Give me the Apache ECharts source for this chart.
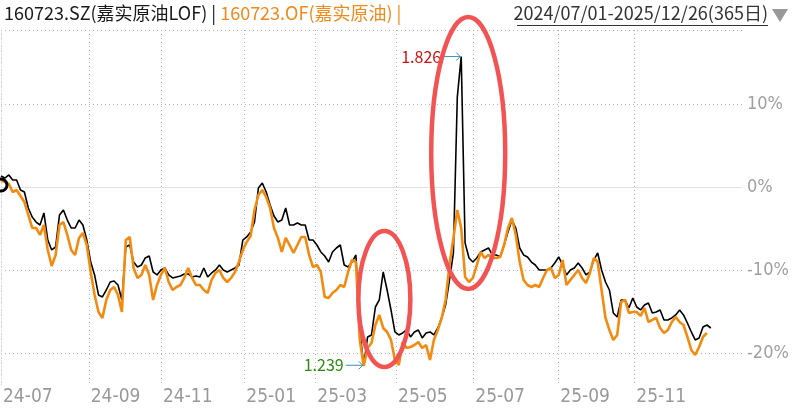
<!DOCTYPE html>
<html><head><meta charset="utf-8">
<script src="https://cdn.jsdelivr.net/npm/echarts@6/dist/echarts.min.js"></script>
<style>html,body{margin:0;padding:0;background:#fff}#c{width:795px;height:410px}</style>
</head><body><div id="c"></div><script>
// x positions are in "slots" of 2 trading days each
const monthPos = [0, 22.5, 41, 62.4, 80.6, 101.3, 121.1, 142.9, 162.4];
const monthLabels = ['24-07','24-09','24-11','25-01','25-03','25-05','25-07','25-09','25-11'];
const yTicks = [-20, -10, 0, 10];
const titleLOF = '160723.SZ(嘉实原油LOF)';
const titleOF = '160723.OF(嘉实原油)';
const dateRange = '2024/07/01-2025/12/26(365日)';
const maxLabel = '1.826';
const minLabel = '1.239';

// 160723.SZ market price, % change from start
const priceLOF = [
 1.33,1.08,1.45,0.84,0.84,-0.36,-0.60,-2.53,-3.61,-4.22,
 -4.58,-3.13,-6.39,-7.59,-7.23,-3.37,-2.77,-3.98,-4.94,-4.94,
 -3.98,-4.58,-6.39,-9.04,-10.60,-13.01,-13.25,-12.41,-11.45,-11.33,
 -11.81,-13.61,-7.23,-6.99,-9.04,-9.64,-9.40,-8.55,-8.31,-10.24,
 -10.60,-10.00,-9.76,-10.60,-10.96,-10.84,-10.72,-10.48,-10.48,-10.84,
 -10.72,-10.84,-9.76,-10.84,-10.36,-10.00,-9.40,-10.00,-10.24,-10.00,
 -9.76,-9.40,-6.39,-6.02,-5.42,-4.22,-0.12,0.48,-0.60,-2.17,
 -3.49,-4.22,-3.98,-2.53,-4.58,-4.58,-4.34,-4.58,-4.58,-6.39,
 -6.39,-6.99,-7.83,-8.31,-9.04,-7.83,-7.35,-6.99,-9.40,-9.64,
 -9.04,-8.19,-17.23,-21.48,-18.07,-17.83,-14.46,-13.61,-10.24,-12.41,
 -14.82,-17.47,-17.83,-17.59,-17.23,-18.07,-17.47,-17.23,-18.19,-17.59,
 -17.47,-17.83,-16.99,-15.78,-14.22,-11.20,-7.95,10.84,15.72,-6.75,
 -8.55,-9.04,-8.55,-7.83,-7.59,-7.35,-8.19,-8.19,-8.43,-6.99,
 -5.42,-3.98,-4.94,-7.35,-8.19,-8.43,-9.04,-9.40,-10.00,-10.00,
 -10.00,-9.76,-9.16,-8.43,-9.40,-10.60,-10.00,-9.76,-9.16,-9.76,
 -10.60,-10.24,-8.80,-7.95,-10.00,-11.45,-12.41,-15.18,-15.66,-13.61,
 -13.61,-14.58,-13.37,-14.46,-14.82,-14.22,-13.98,-15.18,-15.06,-14.82,
 -16.02,-16.02,-15.78,-15.42,-14.82,-15.42,-16.39,-17.47,-18.43,-18.19,
 -16.87,-16.63,-16.99
];
// 160723.OF NAV, % change from start
const navOF = [
 0.84,0.60,0.36,-0.60,-0.36,-1.08,-1.81,-3.37,-4.94,-4.94,
 -5.78,-4.58,-7.59,-9.52,-8.19,-4.58,-4.22,-5.78,-7.59,-8.19,
 -6.14,-5.54,-6.99,-10.24,-13.01,-15.06,-15.78,-13.61,-12.41,-12.05,
 -13.01,-15.06,-6.39,-6.02,-9.76,-10.96,-10.60,-9.40,-10.60,-13.61,
 -11.81,-10.60,-9.76,-11.45,-12.41,-12.05,-11.81,-10.96,-9.76,-10.96,
 -11.81,-11.81,-12.41,-12.77,-11.20,-10.36,-10.00,-10.96,-11.45,-10.96,
 -10.24,-9.04,-7.59,-6.63,-5.90,-2.77,-0.96,-0.36,-1.20,-2.53,
 -4.94,-6.14,-7.83,-6.14,-6.99,-7.95,-6.99,-6.02,-6.02,-8.19,
 -9.64,-9.40,-10.24,-13.25,-13.37,-12.77,-12.41,-11.81,-12.05,-10.24,
 -8.80,-9.04,-18.43,-21.57,-19.40,-18.80,-16.63,-15.42,-16.99,-17.47,
 -18.43,-20.84,-21.45,-18.67,-19.40,-19.28,-19.04,-18.67,-19.40,-19.04,
 -20.84,-18.43,-17.23,-15.78,-13.61,-9.40,-6.14,-2.77,-4.94,-10.84,
 -11.45,-10.96,-9.40,-7.83,-8.55,-8.19,-8.55,-8.55,-8.43,-6.99,
 -4.94,-3.73,-5.78,-9.04,-11.20,-11.81,-12.05,-11.81,-12.05,-10.96,
 -10.00,-9.76,-10.96,-10.60,-8.80,-11.81,-11.20,-10.60,-10.00,-10.96,
 -11.57,-10.36,-8.55,-9.04,-12.41,-15.78,-17.23,-18.43,-17.83,-13.86,
 -13.61,-15.18,-15.06,-15.06,-15.54,-14.58,-16.27,-16.02,-15.78,-16.99,
 -17.59,-17.23,-16.27,-15.66,-16.27,-16.63,-18.07,-19.64,-20.24,-19.28,
 -18.07,-17.59
];

const chart = echarts.init(document.getElementById('c'), null, {renderer: 'canvas'});
const gridTop = 30, gridBottom = 25, gridRight = 53;
const yMin = -23.86, yMax = 18.92, xMax = 190;
const lblFont = "'Liberation Sans Narrow','DejaVu Sans Condensed',sans-serif";

chart.setOption({
  animation: false,
  grid: {left: 0, right: gridRight, top: gridTop, bottom: gridBottom, containLabel: false},
  xAxis: {
    type: 'value', min: 0, max: xMax,
    axisLine: {show: true, lineStyle: {color: '#e2e2e2', width: 1}},
    axisTick: {show: false, customValues: monthPos},
    axisLabel: {
      customValues: monthPos, align: 'left', verticalAlign: 'top', margin: 3,
      padding: [0, 0, 0, 2], color: '#999', fontSize: 19, fontFamily: lblFont,
      formatter: v => { const k = monthPos.indexOf(v); return k >= 0 ? monthLabels[k] : ''; }
    },
    splitLine: {show: true, lineStyle: {color: '#b5b5b5', type: [1, 3], width: 1}}
  },
  yAxis: {
    type: 'value', position: 'right', min: yMin, max: yMax,
    axisLine: {show: true, lineStyle: {color: '#dcdcdc', type: [1, 2]}},
    axisTick: {show: false, customValues: yTicks.concat([yMax])},
    axisLabel: {
      customValues: yTicks, margin: 5, color: '#a0a0a0', fontSize: 18, fontFamily: lblFont,
      formatter: v => Math.round(v) + '%'
    },
    splitLine: {show: true, lineStyle: {color: '#b5b5b5', type: [1, 3], width: 1}}
  },
  series: [
    {type: 'line', name: titleLOF, data: priceLOF.map((v, i) => [i, v]), showSymbol: false,
     lineStyle: {color: '#000', width: 1.6}, itemStyle: {color: '#000'}, z: 2},
    {type: 'line', name: titleOF, data: navOF.map((v, i) => [i, v]), showSymbol: false,
     lineStyle: {color: '#f28b10', width: 2.6}, itemStyle: {color: '#f28b10'}, z: 3}
  ]
});

const px = (x, y) => chart.convertToPixel({xAxisIndex: 0, yAxisIndex: 0}, [x, y]);
let maxI = 0, minI = 0;
priceLOF.forEach((v, i) => { if (v > priceLOF[maxI]) maxI = i; if (v < priceLOF[minI]) minI = i; });
const pMax = px(maxI, priceLOF[maxI]);
const pMin = px(minI, priceLOF[minI]);
const arrowCol = '#3d8fbf';
function arrow(p) {
  return [
    {type: 'line', shape: {x1: p[0] - 18, y1: p[1], x2: p[0] - 1, y2: p[1]}, style: {stroke: arrowCol, lineWidth: 1}, z: 50},
    {type: 'polyline', shape: {points: [[p[0] - 5, p[1] - 4], [p[0] - 1, p[1]], [p[0] - 5, p[1] + 4]]}, style: {stroke: arrowCol, lineWidth: 1, fill: 'none'}, z: 50}
  ];
}
const e1c = px(98.3, -13.5), e2c = px(119.8, 4.1);
const headFont = "'Noto Sans CJK SC',sans-serif";
chart.setOption({
  graphic: [
    {type: 'text', x: 4, y: 4, z: 60, style: {
      text: '{a|' + titleLOF + ' | }{b|' + titleOF + ' |}',
      rich: {
        a: {fill: '#1a1a1a', fontSize: 18, fontFamily: headFont},
        b: {fill: '#f08a1a', fontSize: 18, fontFamily: headFont}
      }}},
    {type: 'text', x: 768, y: 4, z: 60, style: {text: dateRange, fill: '#333', fontSize: 18, fontFamily: headFont, align: 'right'}},
    {type: 'line', shape: {x1: 517, y1: 25.5, x2: 768, y2: 25.5}, style: {stroke: '#333', lineWidth: 1}, z: 60},
    {type: 'polygon', shape: {points: [[772, 9], [788, 9], [780, 22]]}, style: {fill: '#999'}, z: 60},
    {type: 'text', x: pMax[0] - 20, y: pMax[1], z: 50, style: {text: maxLabel, fill: '#d01010', fontSize: 16, fontFamily: headFont, align: 'right', verticalAlign: 'middle'}},
    ...arrow(pMax),
    {type: 'text', x: pMin[0] - 20, y: pMin[1], z: 50, style: {text: minLabel, fill: '#2c8a14', fontSize: 16, fontFamily: headFont, align: 'right', verticalAlign: 'middle'}},
    ...arrow(pMin),
    {type: 'ellipse', shape: {cx: e1c[0], cy: e1c[1], rx: 26, ry: 68}, style: {fill: 'none', stroke: '#f25454', lineWidth: 4.5}, z: 70},
    {type: 'ellipse', shape: {cx: e2c[0], cy: e2c[1], rx: 37, ry: 136}, style: {fill: 'none', stroke: '#f25454', lineWidth: 4.5}, z: 70},
    {type: 'circle', shape: {cx: 1, cy: 185, r: 6}, style: {fill: 'none', stroke: '#000', lineWidth: 3}, z: 40}
  ]
});
</script></body></html>
